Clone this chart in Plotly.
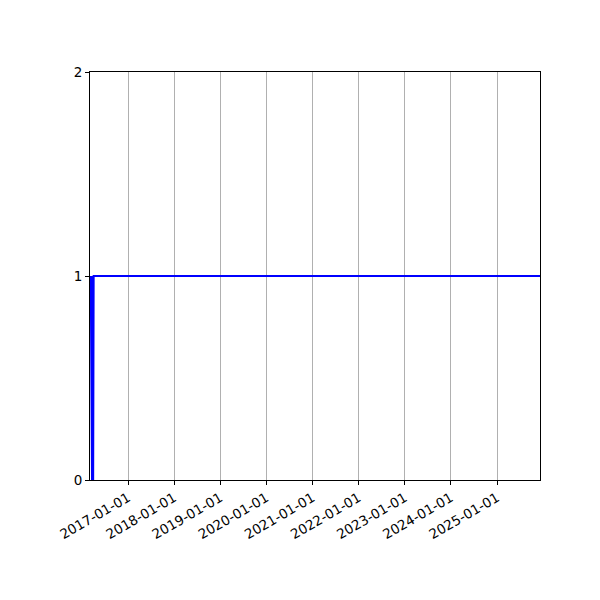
import plotly.graph_objects as go

# status over time (1 = on, 0 = off)
dates = ["2016-03-12", "2016-03-22", "2016-03-27", "2016-03-31",
         "2016-04-04", "2025-12-07"]
status = [1, 0, 1, 0, 1, 1]

year_ticks = ["2017-01-01", "2018-01-01", "2019-01-01", "2020-01-01",
              "2021-01-01", "2022-01-01", "2023-01-01", "2024-01-01",
              "2025-01-01"]
y_ticks = [0, 1, 2]

fig = go.Figure()
fig.add_trace(go.Scatter(x=dates, y=status, mode="lines",
                         line=dict(color="blue", width=2)))

# page body adds 8px, so margins are shifted by that
fig.update_layout(
    width=600, height=600,
    margin=dict(l=82, r=68, t=64, b=128),
    plot_bgcolor="white", paper_bgcolor="white",
    showlegend=False,
    font=dict(family="DejaVu Sans", size=13.5, color="black"),
)
fig.update_xaxes(
    type="date", range=["2016-03-06", "2025-12-07"],
    tickmode="array", tickvals=year_ticks, ticktext=year_ticks,
    tickangle=-30, ticks="outside", ticklen=4, tickcolor="black",
    showgrid=True, gridcolor="#b0b0b0", gridwidth=1,
    showline=True, linecolor="black", linewidth=1, mirror=True,
    zeroline=False,
)
fig.update_yaxes(
    range=[0, 2], tickmode="array", tickvals=y_ticks,
    ticks="outside", ticklen=4, tickcolor="black",
    showgrid=False, zeroline=False,
    showline=True, linecolor="black", linewidth=1, mirror=True,
)

fig.write_html("out.html")
